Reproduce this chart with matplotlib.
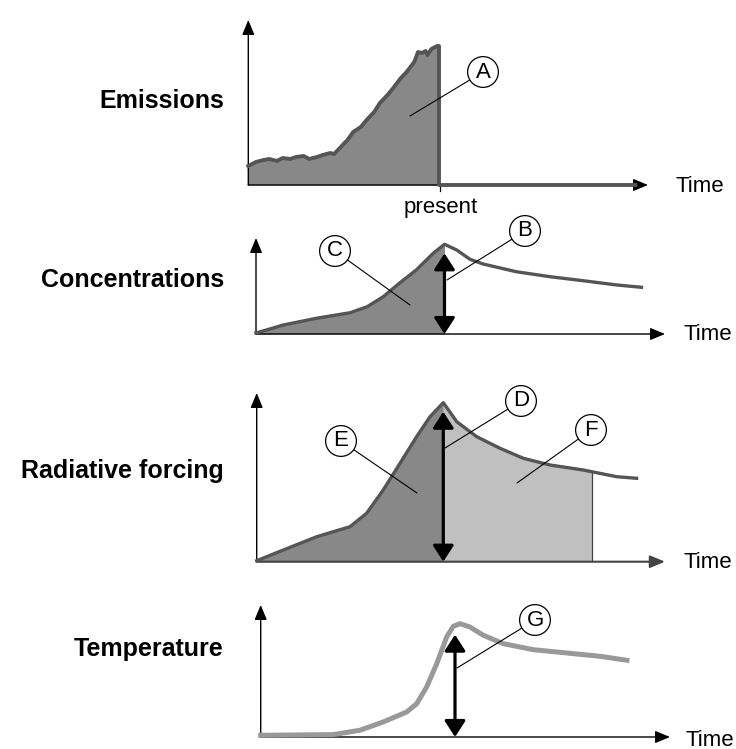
import matplotlib.pyplot as plt
import numpy as np

plt.rcParams['font.family'] = ['Liberation Sans', 'DejaVu Sans']

W, H = 736, 749

# ---- data (time: present = 100) ----
emis_t = [0, 4, 8, 11, 15, 18, 22, 25, 29, 32, 36, 39, 43, 45, 48, 52, 55, 59, 62, 66,
          69, 73, 76, 80, 83, 87, 89, 91, 93, 94, 96, 99, 100, 100, 203]
emis_v = [19, 23, 25, 26, 24, 27, 26, 28, 29, 26, 28, 30, 32, 31, 37, 45, 53, 58, 65, 73,
          82, 90, 97, 107, 113, 123, 133, 132, 134, 130, 136, 139, 139, 0, 0]

conc_t = [0, 14.5, 32, 50, 59, 67.5, 76, 85, 94, 100, 106.5, 113.5, 120.5, 138, 156, 173.5, 191.5, 204.5]
conc_v = [1, 9, 15.7, 21.3, 27.3, 37.3, 50.7, 64, 80.7, 89.7, 84, 74.7, 70, 62.3, 57.3, 53.3, 49, 46.7]

forc_t = [0, 14.3, 32.2, 50, 58.9, 67.8, 76.8, 85.7, 92.9, 100, 107.2, 117.9, 130.4, 142.9,
          157.2, 175, 179.5, 192.9, 203.6]
forc_v = [1, 11.7, 25, 35, 48.4, 71.7, 98.4, 125, 145, 159, 140, 125, 113.4, 103.4,
          96.7, 91.7, 90, 85, 83.4]
forc_end = 179.5   # end of the light grey area F

temp_t = [0, 37.3, 51, 63, 75.1, 80.3, 85.4, 90.6, 95.7, 99.1, 102.6, 107.7, 114.6, 124.9,
          140.4, 157.6, 174.7, 188.5]
temp_v = [1.7, 2.4, 6.7, 15, 25, 33.3, 50, 73.3, 100, 110.7, 113.3, 110, 101.7, 93.3,
          87.3, 84, 80.7, 76.7]

present = 100

# panel geometry in pixels: y-axis x, present x, arrow tip x, baseline y, top y
panels = [
    (248.3, 439, 648, 185, 20),
    (256, 444.5, 665, 334, 238),
    (256.7, 443.3, 665, 561.7, 393),
    (260.7, 455, 670, 737, 605),
]
row_labels = ['Emissions', 'Concentrations', 'Radiative forcing', 'Temperature']
label_base = [108, 287, 478, 656]
time_pos = [(675, 187), (683, 335), (683, 563), (686, 740)]

fig = plt.figure(figsize=(W / 100, H / 100), dpi=100)

axes = []
for (x0, xp, x1, yb, yt) in panels:
    ax = fig.add_axes([x0 / W, (H - yb) / H, (x1 - x0) / W, (yb - yt) / H])
    ax.set_xlim(0, 100 * (x1 - x0) / (xp - x0))
    ax.set_ylim(0, yb - yt)
    ax.axis('off')
    axes.append(ax)

# overlay for labels, in pixel units (y down)
top = fig.add_axes([0, 0, 1, 1])
top.set_xlim(0, W)
top.set_ylim(H, 0)
top.axis('off')
top.patch.set_alpha(0)

def axis_arrows(ax, xcol='black', xlw=1.0):
    ax.annotate('', xy=(1, 0), xytext=(0, 0), xycoords='axes fraction',
                arrowprops=dict(arrowstyle='-|>,head_length=0.6,head_width=0.25',
                                mutation_scale=15, color=xcol, lw=xlw,
                                shrinkA=0, shrinkB=0), annotation_clip=False)
    ax.annotate('', xy=(0, 1), xytext=(0, 0), xycoords='axes fraction',
                arrowprops=dict(arrowstyle='-|>,head_length=0.6,head_width=0.25',
                                mutation_scale=15, color='black', lw=1.0,
                                shrinkA=0, shrinkB=0), annotation_clip=False)

def double_arrow(ax, top_v):
    ax.annotate('', xy=(present, 0), xytext=(present, top_v),
                arrowprops=dict(arrowstyle='<|-|>,head_length=0.65,head_width=0.42',
                                mutation_scale=15, color='black', lw=2.3,
                                shrinkA=6.5, shrinkB=0), annotation_clip=False)

def circle_label(letter, c, tgt):
    top.annotate(letter, xy=tgt, xytext=c,
                 ha='center', va='center', fontsize=16,
                 bbox=dict(boxstyle='circle,pad=0.22', fc='white', ec='black', lw=0.9),
                 arrowprops=dict(arrowstyle='-', color='black', lw=0.8,
                                 shrinkA=0, shrinkB=0),
                 annotation_clip=False, zorder=10)

dark = '#888888'
light = '#c0c0c0'
line_col = '#555555'

# emissions
ax = axes[0]
axis_arrows(ax)
et = np.array(emis_t)
ev = np.array(emis_v)
ax.fill_between(et[:33], ev[:33], 0, color=dark, lw=0)
ax.plot(et, ev, color=line_col, lw=2.8, solid_joinstyle='round', clip_on=False, zorder=3)
ax.plot([present + 0.7, present + 0.7], [0, -6], color='black', lw=0.9, clip_on=False)

# concentrations
ax = axes[1]
axis_arrows(ax)
ct = np.array(conc_t)
cv = np.array(conc_v)
m = ct <= present
ax.fill_between(ct[m], cv[m], 0, color=dark, lw=0)
ax.plot(ct, cv, color=line_col, lw=2.4, solid_joinstyle='round', clip_on=False, zorder=3)
double_arrow(ax, np.interp(present, ct, cv))

# radiative forcing
ax = axes[2]
axis_arrows(ax, xcol='#444444', xlw=1.5)
ft = np.array(forc_t)
fv = np.array(forc_v)
m = ft <= present
ax.fill_between(ft[m], fv[m], 0, color=dark, lw=0)
m2 = (ft >= present) & (ft <= forc_end)
ax.fill_between(ft[m2], fv[m2], 0, color=light, lw=0)
ax.plot([forc_end, forc_end], [0, np.interp(forc_end, ft, fv)], color='#444444', lw=0.9)
ax.plot(ft, fv, color=line_col, lw=2.4, solid_joinstyle='round', clip_on=False, zorder=3)
double_arrow(ax, np.interp(present, ft, fv))

# temperature
ax = axes[3]
axis_arrows(ax)
ax.plot(temp_t, temp_v, color='#999999', lw=3.6, solid_joinstyle='round', clip_on=False, zorder=3)
double_arrow(ax, np.interp(present, temp_t, temp_v))

# text
for lab, yb in zip(row_labels, label_base):
    top.text(224, yb, lab, ha='right', va='baseline', fontsize=18, fontweight='bold')
for (x, y) in time_pos:
    top.text(x, y, 'Time', ha='left', va='center', fontsize=16)
top.text(441, 207, 'present', ha='center', va='center', fontsize=16)

circle_label('A', (483, 72), (410, 116))
circle_label('B', (525, 231), (447, 280))
circle_label('C', (335, 251), (410, 305))
circle_label('D', (521, 401), (445, 448))
circle_label('E', (341, 441), (417, 493))
circle_label('F', (591, 430), (517, 483))
circle_label('G', (535, 620), (457, 668))

fig.savefig('out.png', dpi=100)
